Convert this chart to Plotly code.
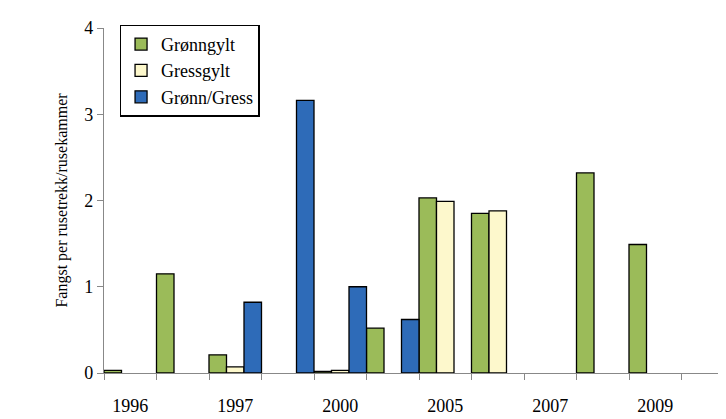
import plotly.graph_objects as go

# 12 category slots, labels every second slot
slots = list(range(12))
year_labels = ["1996", "1997", "2000", "2005", "2007", "2009"]
label_slots = [0, 2, 4, 6, 8, 10]

gronngylt = [0.03, 1.15, 0.21, None, 0.02, 0.52, 2.03, 1.85, None, 2.32, 1.49, None]
gressgylt = [None, None, 0.07, None, 0.03, None, 1.99, 1.88, None, None, None, None]
gronn_gress = [None, None, 0.82, 3.16, 1.00, 0.62, None, None, None, None, None, None]

series = [
    ("Grønngylt", gronngylt, "#9bbb59", 1 / 6),
    ("Gressgylt", gressgylt, "#fdf8cc", 0.5),
    ("Grønn/Gress", gronn_gress, "#2e6bb8", 5 / 6),
]

fig = go.Figure()
for name, vals, color, off in series:
    fig.add_trace(go.Bar(
        x=[s + off for s in slots], y=vals, name=name, width=1 / 3,
        marker=dict(color=color, line=dict(color="black", width=1.3)),
    ))

fig.update_layout(
    width=726, height=419,
    margin=dict(l=96, r=0, t=20, b=54),
    plot_bgcolor="white", paper_bgcolor="white",
    font=dict(family="Liberation Serif, Times New Roman, serif", size=18, color="black"),
    barmode="overlay",
    legend=dict(x=0.025, y=1.01, xanchor="left", yanchor="top",
                bordercolor="black", borderwidth=1.3, bgcolor="white",
                font=dict(family="Liberation Serif, serif", size=18),
                tracegroupgap=2, itemwidth=30),
)
fig.update_xaxes(
    range=[0, 12], showgrid=False, showline=True, linecolor="#888", linewidth=1.3,
    tickvals=[s + 0.5 for s in label_slots], ticktext=year_labels, ticks="",
    ticklabelstandoff=16,
    minor=dict(tick0=0, dtick=1, ticks="outside", ticklen=6, tickcolor="#888"),
)
fig.update_yaxes(
    range=[0, 4], dtick=1, showgrid=False, showline=True, linecolor="#888", linewidth=1.3,
    ticks="outside", ticklen=6, tickcolor="#888", zeroline=False,
    title=dict(text="Fangst per rusetrekk/rusekammer", font=dict(size=16), standoff=12),
)

fig.write_html("out.html")
